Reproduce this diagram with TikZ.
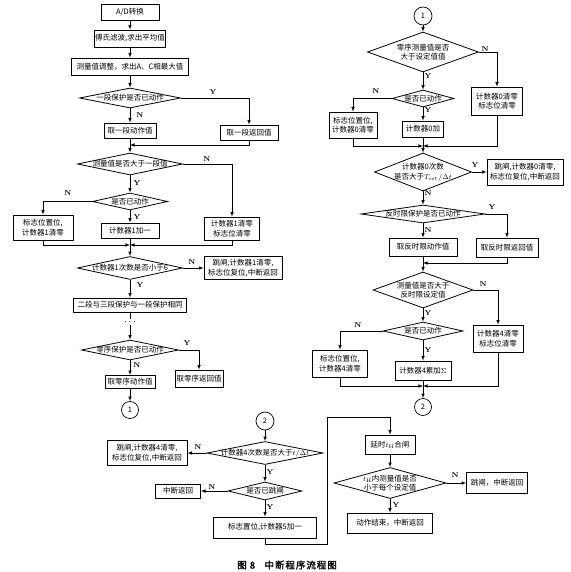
\documentclass[tikz,border=0pt]{standalone}
\usepackage{fontspec}
\newfontfamily\cjk{Noto Sans CJK SC}
\newfontfamily\capfont[FakeBold=1.5,LetterSpace=10]{Noto Sans CJK SC}
\usetikzlibrary{shapes.geometric}
\tikzset{
    sz/.style 2 args={minimum width=#1pt,minimum height=#2pt},
    box/.style={draw,line width=0.8pt,align=center,inner sep=1pt},
    dec/.style={diamond,draw,line width=0.8pt,align=center,inner sep=-6pt,aspect=4},
    conn/.style={circle,draw,line width=0.7pt,inner sep=0pt,minimum size=17pt},
    yn/.style={font=\bfseries\fontsize{7}{8}\selectfont}
}
\begin{document}
\begin{tikzpicture}[x=1pt,y=-1pt,>=latex,line width=0.6pt,
        every node/.style={font=\cjk\fontsize{7.5}{9.5}\selectfont}]
    \useasboundingbox (0,0) rectangle (570,572);
    % Left column
    \node[box,sz={58}{16}] (ad) at (130,12) {A/D转换};
    \node[box,sz={71}{17}] (fft) at (130,38.5) {傅氏滤波,求出平均值};
    \node[box,sz={117}{17}] (adj) at (130,66.5) {测量值调整，求出A、C相最大值};
    \node[dec,sz={101}{20}] (d1) at (130,98) {一段保护是否已动作};
    \node[box,sz={52}{15}] (act1) at (130,130.5) {取一段动作值};
    \node[box,sz={58}{15}] (ret1) at (249,132.5) {取一段返回值};
    \coordinate (m1) at (130,145);
    \node[dec,sz={105}{22}] (d2) at (130,164) {测量值是否大于一段值};
    \node[dec,sz={75}{17}] (d3) at (130,201.5) {是否已动作};
    \node[box,sz={60}{25}] (flag1) at (43,227.5) {标志位置位,\\计数器1清零};
    \node[box,sz={58}{15}] (cnt1) at (130,230.5) {计数器1加一};
    \node[box,sz={55}{23}] (clr1) at (232,228.5) {计数器1清零\\标志位清零};
    \coordinate (m2) at (130,245);
    \node[dec,sz={105}{23}] (d4) at (130,268) {计数器1次数是否小于6};
    \node[box,sz={78}{23}] (trip1) at (243,268) {跳闸,计数器1清零,\\标志位复位,中断返回};
    \node[box,sz={113}{14}] (same) at (130,305) {二段与三段保护与一段保护相同};
    \node[inner sep=0.5pt,font=\fontsize{10}{10}\selectfont] (dots) at (130,322) {$\cdots$};
    \node[dec,sz={97}{20}] (d5) at (130,350) {零序保护是否已动作};
    \node[box,sz={50}{13}] (zact) at (130,382) {取零序动作值};
    \node[box,sz={48}{17}] (zret) at (199,378.5) {取零序返回值};
    \node[conn] (c1) at (130,410) {1};
    % Left labels
    \node[yn] (y1) at (213,92) {Y};
    \node[yn] (n1) at (140,115) {N};
    \node[yn] (n2) at (207,159) {N};
    \node[yn] (y2) at (137,183) {Y};
    \node[yn] (n3) at (68,193) {N};
    \node[yn] (y3) at (137,217) {Y};
    \node[yn] (n4) at (192,262) {N};
    \node[yn] (y4) at (140,285) {Y};
    \node[yn] (y5) at (187,343) {Y};
    \node[yn] (n5) at (137,365) {N};
    % Left connectors
    \draw[->] (ad) -- (fft);
    \draw[->] (fft) -- (adj);
    \draw[->] (adj) -- (d1);
    \draw[->] (d1.east) -| (ret1.north);
    \draw[->] (d1) -- (act1);
    \draw[->] (ret1.south) |- (m1);
    \draw[->] (act1) -- (d2);
    \draw[->] (d2.east) -| (clr1.north);
    \draw[->] (d2) -- (d3);
    \draw[->] (d3.west) -| (flag1.north);
    \draw[->] (d3) -- (cnt1);
    \draw[->] (flag1.south) |- (m2);
    \draw[->] (clr1.south) |- (m2);
    \draw[->] (cnt1) -- (d4);
    \draw[->] (d4) -- (trip1);
    \draw[->] (d4) -- (same);
    \draw (same) -- (dots);
    \draw[->] (dots) -- (d5);
    \draw[->] (d5.east) -| (zret.north);
    \draw[->] (d5) -- (zact);
    \draw[->] (zact) -- (c1);
    % Right column
    \node[conn,minimum size=18pt] (c1b) at (423,16) {1};
    \node[dec,sz={111}{40}] (d6) at (423,52) {零序测量值是否\\大于设定值值};
    \node[box,sz={51}{28}] (clr0) at (497,101) {计数器0清零\\标志位清零};
    \node[dec,sz={62}{17}] (d7) at (423,98.5) {是否已动作};
    \node[box,sz={48}{26}] (flag0) at (353,125) {标志位置位,\\计数器0清零};
    \node[box,sz={41}{16}] (cnt0) at (423,129) {计数器0加};
    \coordinate (m3) at (423,146);
    \node[dec,sz={97}{38}] (d8) at (423,172) {计数器0次数\\是否大于$T_{\mathrm{set}}/\Delta t$};
    \node[box,sz={76}{26}] (trip0) at (525,172) {跳闸,计数器0清零,\\标志位复位,中断返回};
    \node[dec,sz={124}{18}] (d9) at (423,214) {反时限保护是否已动作};
    \node[box,sz={68}{18}] (ract) at (423,247) {取反时限动作值};
    \node[box,sz={62}{19}] (rret) at (507,247.5) {取反时限返回值};
    \coordinate (m4) at (423,263);
    \node[dec,sz={100}{36}] (d10) at (423,290) {测量值是否大于\\反时限设定值};
    \node[box,sz={50}{27}] (clr4) at (498,338.5) {计数器4清零\\标志位清零};
    \node[dec,sz={80}{18}] (d11) at (423,331) {是否已动作};
    \node[box,sz={55}{27}] (flag4) at (340,363.5) {标志位置位,\\计数器4清零};
    \node[box,sz={56}{19}] (cnt4) at (423,370.5) {计数器4累加$\Sigma$};
    \coordinate (m5) at (423,386);
    \node[conn] (c2) at (423,407) {2};
    % Right labels
    \node[yn] (n6) at (485,49) {N};
    \node[yn] (y6) at (428,76) {Y};
    \node[yn] (n7) at (376,91) {N};
    \node[yn] (y7) at (428,110) {Y};
    \node[yn] (y8) at (475,165) {Y};
    \node[yn] (n8) at (428,193) {N};
    \node[yn] (y9) at (492,207) {Y};
    \node[yn] (n9) at (428,230) {N};
    \node[yn] (n10) at (483,284) {N};
    \node[yn] (y10) at (428,313) {Y};
    \node[yn] (n11) at (358,325) {N};
    \node[yn] (y11) at (428,350) {Y};
    % Right connectors
    \draw[->] (c1b) -- (d6);
    \draw[->] (d6.east) -| (clr0.north);
    \draw[->] (d6) -- (d7);
    \draw[->] (d7.west) -| (flag0.north);
    \draw[->] (d7) -- (cnt0);
    \draw[->] (flag0.south) |- (m3);
    \draw[->] (clr0.south) |- (m3);
    \draw[->] (cnt0) -- (d8);
    \draw[->] (d8) -- (trip0);
    \draw[->] (d8) -- (d9);
    \draw[->] (d9.east) -| (rret.north);
    \draw[->] (d9) -- (ract);
    \draw[->] (rret.south) |- (m4);
    \draw[->] (ract) -- (d10);
    \draw[->] (d10.east) -| (clr4.north);
    \draw[->] (d10) -- (d11);
    \draw[->] (d11.west) -| (flag4.north);
    \draw[->] (d11) -- (cnt4);
    \draw[->] (flag4.south) |- (m5);
    \draw[->] (clr4.south) |- (m5);
    \draw[->] (cnt4) -- (c2);
    % Bottom part
    \node[conn,minimum size=18pt] (c2b) at (265,421) {2};
    \node[dec,sz={116}{23}] (d12) at (265,453) {计数器4次数是否大于$t/\Delta t$};
    \node[box,sz={80}{25}] (trip4) at (147,453) {跳闸,计数器4清零,\\标志位复位,中断返回};
    \node[dec,sz={74}{18}] (d13) at (265,491) {是否已跳闸};
    \node[box,sz={45}{14}] (ret) at (178,491) {中断返回};
    \node[box,sz={103}{21}] (flag5) at (265,527.5) {标志置位,计数器5加一};
    \coordinate (b1) at (327,544);
    \coordinate (b2) at (327,417);
    \node[box,sz={50}{19}] (delay) at (390,444.5) {延时$t_{\mathrm{H}}$合闸};
    \node[dec,sz={112}{31}] (d14) at (390,483) {$t_{\mathrm{H}}$内测量值是否\\小于每个设定值};
    \node[box,sz={61}{21}] (tripx) at (497,483) {跳闸，中断返回};
    \node[box,sz={85}{20}] (end) at (390,523) {动作结束，中断返回};
    % Bottom labels
    \node[yn] (n12) at (198,447) {N};
    \node[yn] (y12) at (270,472) {Y};
    \node[yn] (n13) at (212,487) {N};
    \node[yn] (y13) at (270,507) {Y};
    \node[yn] (n14) at (455,475) {N};
    \node[yn] (y14) at (396,505) {Y};
    % Bottom connectors
    \draw[->] (c2b) -- (d12);
    \draw[->] (d12) -- (trip4);
    \draw[->] (d12) -- (d13);
    \draw[->] (d13) -- (ret);
    \draw[->] (d13) -- (flag5);
    \draw[->] (flag5.south) |- (b1) -- (b2) -| (delay.north);
    \draw[->] (delay) -- (d14);
    \draw[->] (d14) -- (tripx);
    \draw[->] (d14) -- (end);
    % Caption
    \node[font=\capfont\fontsize{9.5}{11}\selectfont] (cap) at (287,565) {图 8\quad 中断程序流程图};
\end{tikzpicture}
\end{document}
